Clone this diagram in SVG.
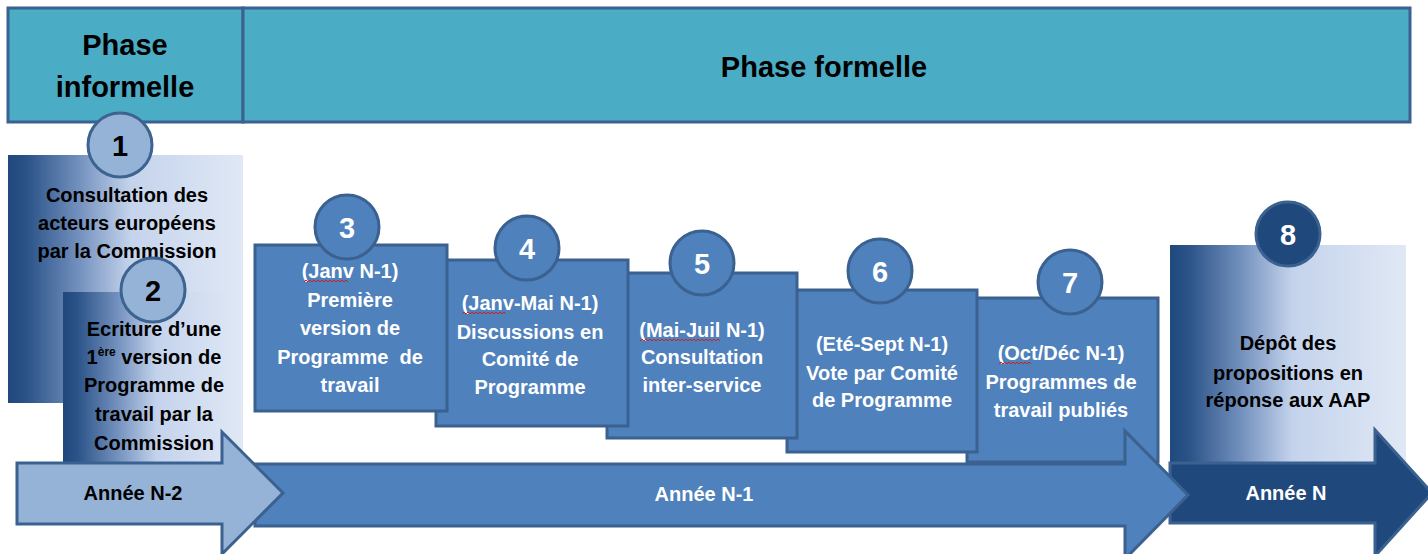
<svg xmlns="http://www.w3.org/2000/svg" width="1428" height="554" viewBox="0 0 1428 554">
<defs>
<linearGradient id="grad" x1="0" y1="0" x2="1" y2="0">
<stop offset="0" stop-color="#1f487c"/>
<stop offset="0.08" stop-color="#2b5388"/>
<stop offset="0.3" stop-color="#7290bd"/>
<stop offset="0.52" stop-color="#c4d3ec"/>
<stop offset="1" stop-color="#e0e8f5"/>
</linearGradient>
</defs>
<style>
.hdr{fill:#4bacc6;stroke:#3b6190;stroke-width:3}
.gbox{fill:url(#grad)}
.bbox{fill:#4f81bd;stroke:#3a6190;stroke-width:3}
.c-light{fill:#95b3d7;stroke:#3d6391;stroke-width:3}
.c-mid{fill:#4f81bd;stroke:#3a6190;stroke-width:3}
.c-dark{fill:#1f497d;stroke:#3a6190;stroke-width:3}
text{font-family:"Liberation Sans",Arial,sans-serif;font-weight:bold;text-anchor:middle}
.h{font-size:29px;fill:#000}
.t{font-size:20px}
.k{fill:#000}
.w{fill:#fff}
.num{font-size:29px}
.sup{font-size:12px}
.squig{fill:none;stroke:#d02020;stroke-width:1}
.arr-l{fill:#95b3d7;stroke:#3b6190;stroke-width:3}
.arr-m{fill:#4f81bd;stroke:#3b6190;stroke-width:3}
.arr-d{fill:#1f497d;stroke:#3b6190;stroke-width:3}
</style>

<g id="header-informelle">
<rect class="hdr" x="8" y="8" width="235" height="114"/>
<text class="h" x="125" y="55">Phase</text>
<text class="h" x="125" y="97">informelle</text>
</g>
<g id="header-formelle">
<rect class="hdr" x="243" y="8" width="1167" height="114"/>
<text class="h" x="824" y="77">Phase formelle</text>
</g>

<g id="step1">
<rect class="gbox" x="8" y="155" width="235" height="248"/>
<circle class="c-light" cx="120" cy="145" r="32"/>
<text class="num k" x="120" y="156">1</text>
<text class="t k" x="127" y="202">Consultation des</text>
<text class="t k" x="127" y="230">acteurs européens</text>
<text class="t k" x="127" y="258">par la Commission</text>
</g>

<g id="step2">
<rect class="gbox" x="63" y="292" width="180" height="174"/>
<circle class="c-light" cx="153" cy="290" r="32"/>
<text class="num k" x="153" y="301">2</text>
<text class="t k" x="154" y="336">Ecriture d’une</text>
<text class="t k" x="154" y="364">1<tspan class="sup" dy="-8">ère</tspan><tspan dy="8"> version de</tspan></text>
<text class="t k" x="154" y="392">Programme de</text>
<text class="t k" x="154" y="421">travail par la</text>
<text class="t k" x="154" y="450">Commission</text>
</g>

<g id="step8">
<rect class="gbox" x="1170" y="245" width="236" height="222"/>
<circle class="c-dark" cx="1288" cy="234" r="32"/>
<text class="num w" x="1288" y="245">8</text>
<text class="t k" x="1288" y="350">Dépôt des</text>
<text class="t k" x="1288" y="380">propositions en</text>
<text class="t k" x="1288" y="407">réponse aux AAP</text>
</g>

<g id="step7">
<rect class="bbox" x="967" y="298" width="191" height="164"/>
<circle class="c-mid" cx="1070" cy="282" r="32"/>
<text class="num w" x="1070" y="293">7</text>
<text class="t w" x="1061" y="360">(Oct/Déc N-1)</text>
<text class="t w" x="1061" y="389">Programmes de</text>
<text class="t w" x="1061" y="417">travail publiés</text>
<path class="squig" d="M999 364 l2 -2 l2 2 l2 -2 l2 2 l2 -2 l2 2 l2 -2 l2 2 l2 -2 l2 2 l2 -2 l2 2 l2 -2 l2 2 l2 -2 l2 2"/>
</g>

<g id="step6">
<rect class="bbox" x="787" y="290" width="190" height="162"/>
<circle class="c-mid" cx="880" cy="271" r="32"/>
<text class="num w" x="880" y="282">6</text>
<text class="t w" x="882" y="351">(Eté-Sept N-1)</text>
<text class="t w" x="882" y="380">Vote par Comité</text>
<text class="t w" x="882" y="407">de Programme</text>
</g>

<g id="step5">
<rect class="bbox" x="607" y="273" width="190" height="165"/>
<circle class="c-mid" cx="702" cy="263" r="32"/>
<text class="num w" x="702" y="274">5</text>
<text class="t w" x="702" y="337">(Mai-Juil N-1)</text>
<text class="t w" x="702" y="364">Consultation</text>
<text class="t w" x="702" y="392">inter-service</text>
<path class="squig" d="M640 341 l2 -2 l2 2 l2 -2 l2 2 l2 -2 l2 2 l2 -2 l2 2 l2 -2 l2 2 l2 -2 l2 2 l2 -2 l2 2 l2 -2 l2 2 l2 -2 l2 2 l2 -2 l2 2 l2 -2 l2 2 l2 -2 l2 2 l2 -2 l2 2 l2 -2 l2 2 l2 -2 l2 2 l2 -2 l2 2 l2 -2 l2 2 l2 -2 l2 2 l2 -2 l2 2 l2 -2 l2 2"/>
</g>

<g id="step4">
<rect class="bbox" x="436" y="260" width="192" height="166"/>
<circle class="c-mid" cx="527" cy="248" r="32"/>
<text class="num w" x="527" y="259">4</text>
<text class="t w" x="530" y="310">(Janv-Mai N-1)</text>
<text class="t w" x="530" y="339">Discussions en</text>
<text class="t w" x="530" y="366">Comité de</text>
<text class="t w" x="530" y="394">Programme</text>
<path class="squig" d="M462 314 l2 -2 l2 2 l2 -2 l2 2 l2 -2 l2 2 l2 -2 l2 2 l2 -2 l2 2 l2 -2 l2 2 l2 -2 l2 2 l2 -2 l2 2 l2 -2 l2 2 l2 -2 l2 2 l2 -2 l2 2"/>
</g>

<g id="step3">
<rect class="bbox" x="255" y="245" width="192" height="166"/>
<circle class="c-mid" cx="347" cy="227" r="32"/>
<text class="num w" x="347" y="238">3</text>
<text class="t w" x="350" y="278">(Janv N-1)</text>
<text class="t w" x="350" y="307">Première</text>
<text class="t w" x="350" y="335">version de</text>
<text class="t w" x="350" y="364" xml:space="preserve">Programme  de</text>
<text class="t w" x="350" y="392">travail</text>
<path class="squig" d="M304 282 l2 -2 l2 2 l2 -2 l2 2 l2 -2 l2 2 l2 -2 l2 2 l2 -2 l2 2 l2 -2 l2 2 l2 -2 l2 2 l2 -2 l2 2 l2 -2 l2 2 l2 -2 l2 2 l2 -2 l2 2"/>
</g>

<g id="connectors">
<g id="arrow-anneeN">
<polygon class="arr-d" points="1170,463 1375,463 1375,430 1432,493 1375,556 1375,523 1170,523"/>
<text class="t w" x="1286" y="500">Année N</text>
</g>
<g id="arrow-anneeN-1">
<polygon class="arr-m" points="255,464 1125,464 1125,431 1188,495 1125,559 1125,526 255,526"/>
<text class="t w" x="704" y="501">Année N-1</text>
</g>
<g id="arrow-anneeN-2">
<polygon class="arr-l" points="17,463 222,463 222,432 283,493 222,554 222,524 17,524"/>
<text class="t k" x="133" y="500">Année N-2</text>
</g>
</g>
</svg>
